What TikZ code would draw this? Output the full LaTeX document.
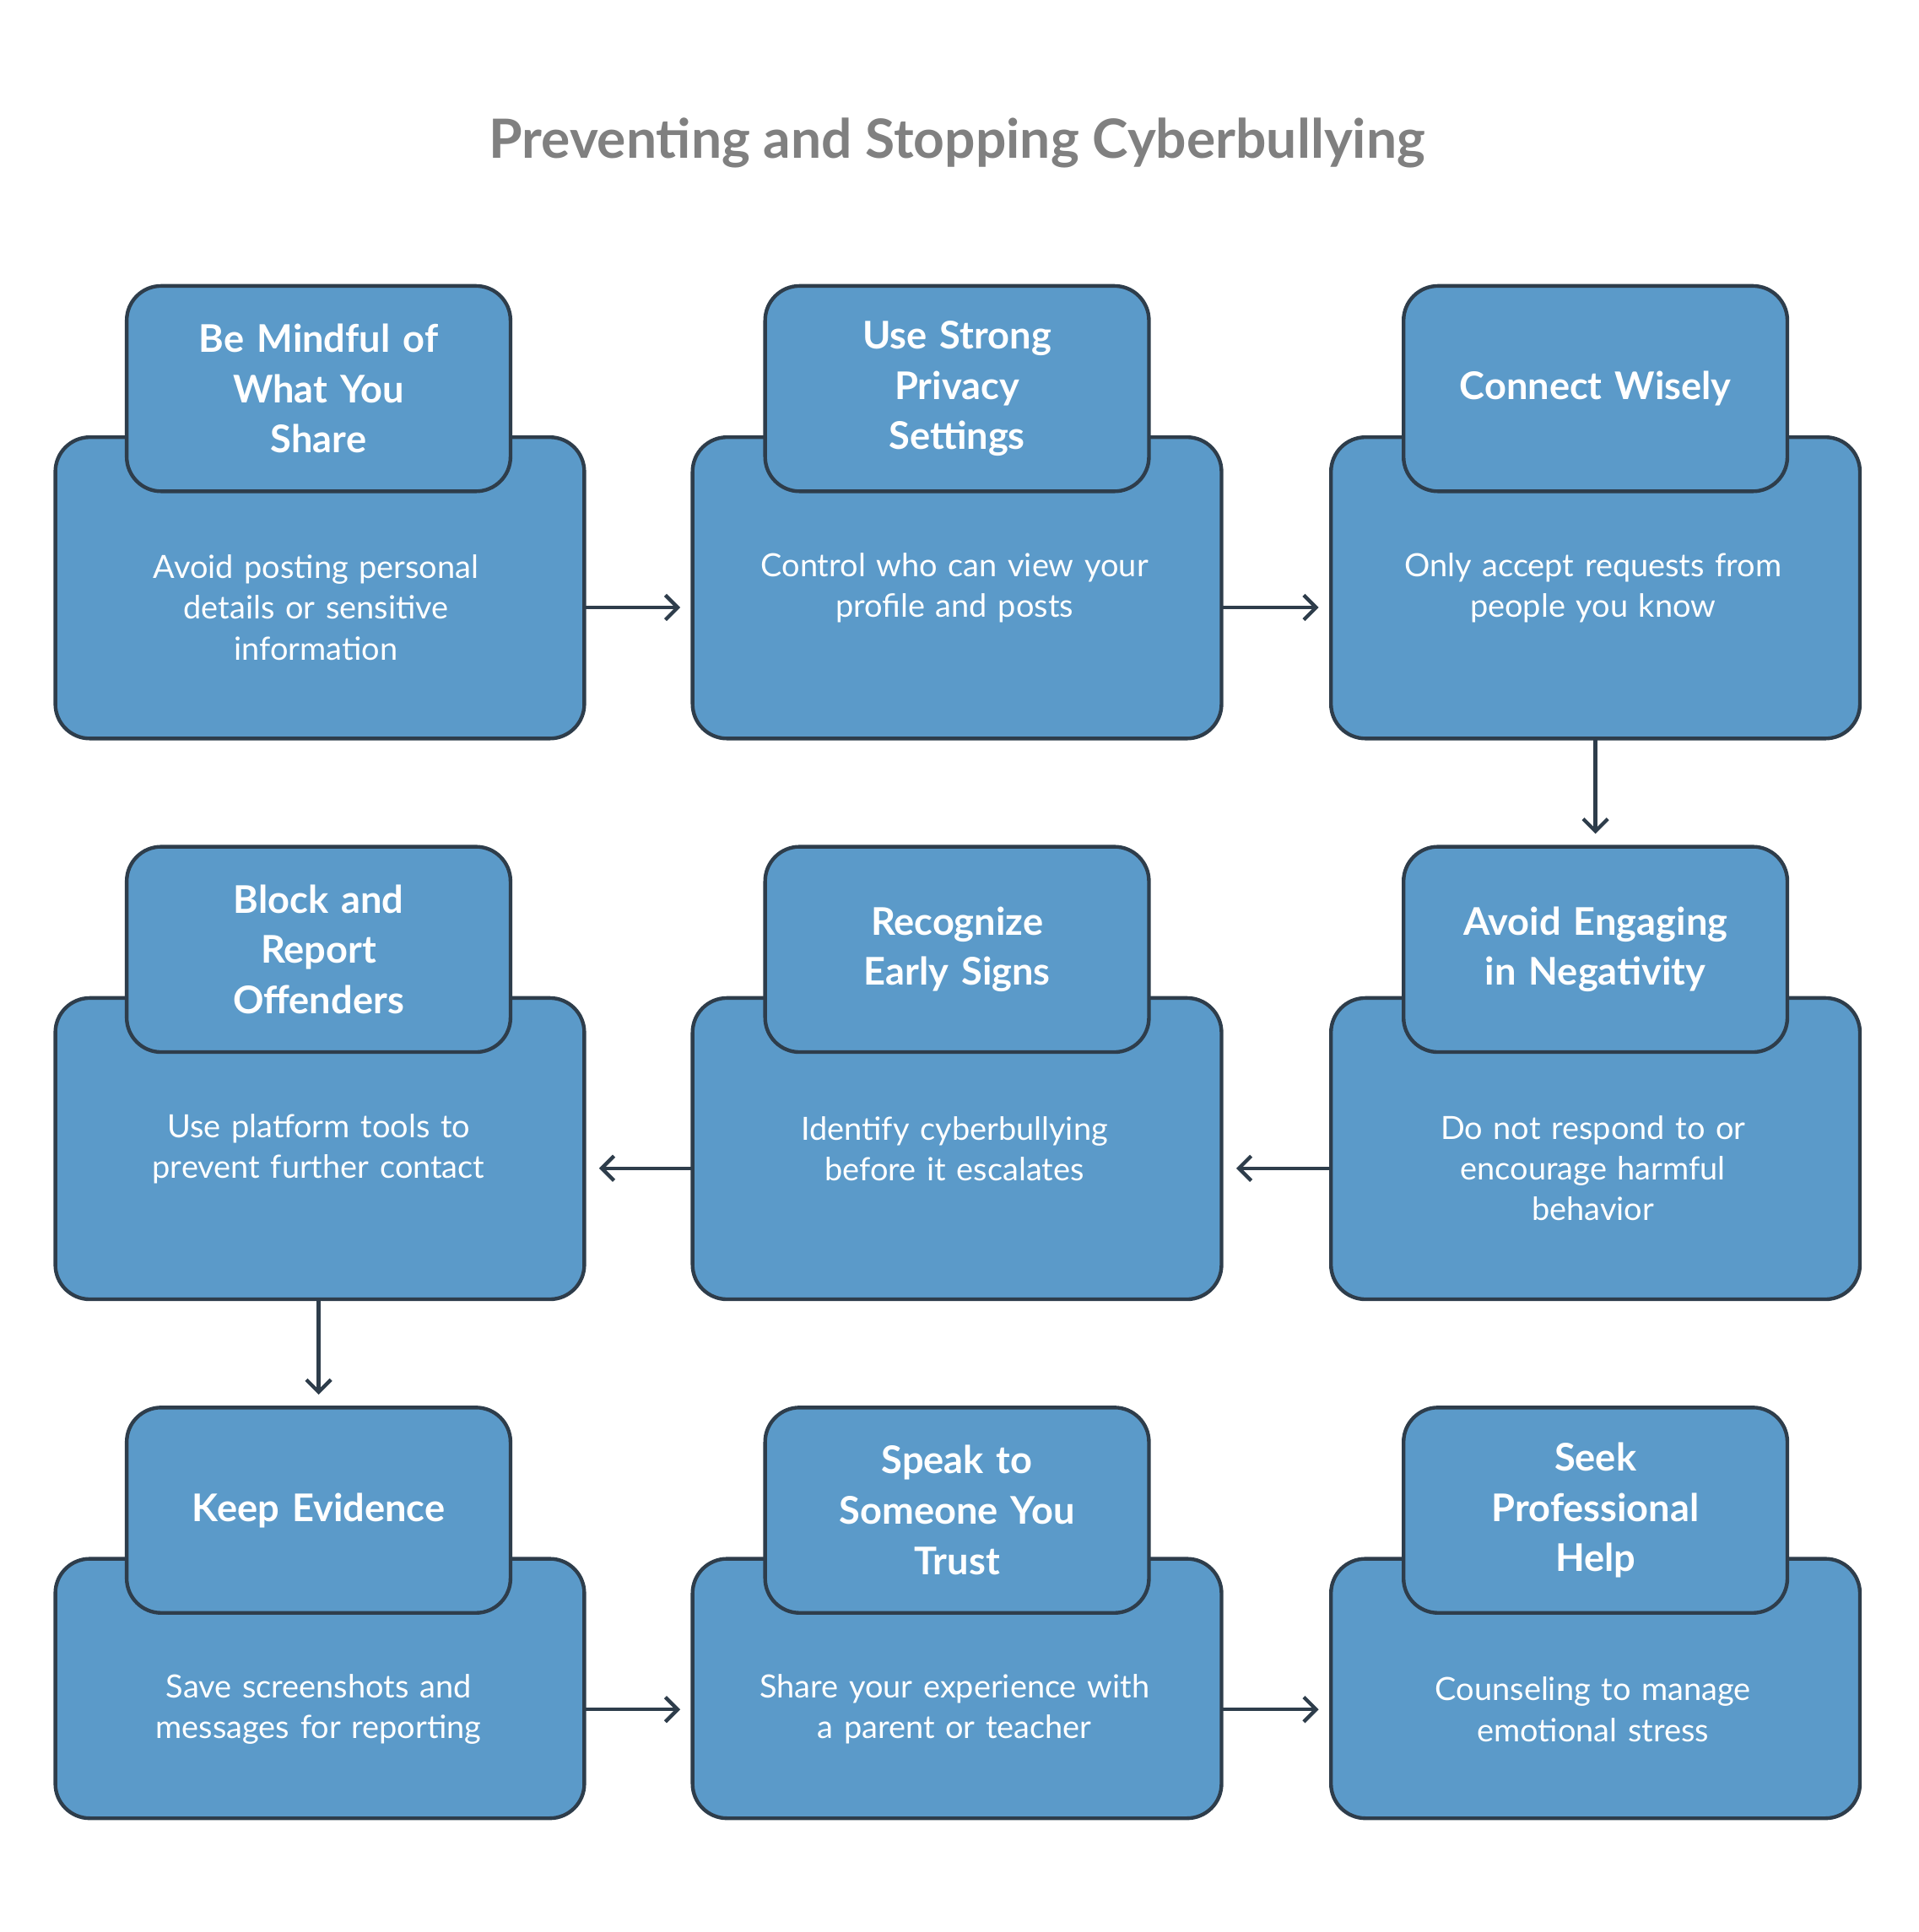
\documentclass[tikz,border=0pt]{standalone}
\usepackage{fontspec}
\setmainfont{Lato}
\usetikzlibrary{arrows.meta}
\definecolor{boxfill}{HTML}{5B9AC9}
\definecolor{boxline}{HTML}{2E3D4B}
\definecolor{titlegray}{HTML}{808080}
\tikzset{
 big/.style={draw=boxline,fill=boxfill,line width=3pt,rounded corners=28pt,minimum width=430pt,minimum height=245pt},
 head/.style={draw=boxline,fill=boxfill,line width=3pt,rounded corners=28pt,minimum width=312pt,minimum height=167pt},
 htext/.style={text=white,align=center,font=\fontsize{31}{41}\selectfont\bfseries,text width=290pt},
 btext/.style={text=white,align=center,font=\fontsize{26}{33}\selectfont,text width=400pt},
 conn/.style={draw=boxline,line width=3pt,-{Straight Barb[length=10pt,width=20pt,line width=3pt]}}
}
\begin{document}
\begin{tikzpicture}[x=1pt,y=-1pt]
\useasboundingbox (0,0) rectangle (1560,1571);
\node[font=\fontsize{44}{50}\selectfont\bfseries,text=titlegray] (title) at (778,116) {Preventing and Stopping Cyberbullying};
% row 1
\node[big] (b1) at (260,478) {}; \node[head] (h1) at (259,316) {};
\node[big] (b2) at (778,478) {}; \node[head] (h2) at (778,316) {};
\node[big] (b3) at (1297,478) {}; \node[head] (h3) at (1297,316) {};
% row 2
\node[big] (b4) at (260,934) {}; \node[head] (h4) at (259,772) {};
\node[big] (b5) at (778,934) {}; \node[head] (h5) at (778,772) {};
\node[big] (b6) at (1297,934) {}; \node[head] (h6) at (1297,772) {};
% row 3
\node[big,minimum height=211pt] (b7) at (260,1373) {}; \node[head] (h7) at (259,1228) {};
\node[big,minimum height=211pt] (b8) at (778,1373) {}; \node[head] (h8) at (778,1228) {};
\node[big,minimum height=211pt] (b9) at (1297,1373) {}; \node[head] (h9) at (1297,1228) {};
% header texts
\node[htext] (t1) at (h1) {Be Mindful of\\What You\\Share};
\node[htext] (t2) at (h2) {Use Strong\\Privacy\\Settings};
\node[htext] (t3) at (h3) {Connect Wisely};
\node[htext] (t4) at (h4) {Block and\\Report\\Offenders};
\node[htext] (t5) at (h5) {Recognize\\Early Signs};
\node[htext] (t6) at (h6) {Avoid Engaging\\in Negativity};
\node[htext] (t7) at (h7) {Keep Evidence};
\node[htext] (t8) at (h8) {Speak to\\Someone You\\Trust};
\node[htext] (t9) at (h9) {Seek\\Professional\\Help};
% body texts
\node[btext] (d1) at (257,494) {Avoid posting personal\\details or sensitive\\information};
\node[btext] (d2) at (776,478) {Control who can view your\\profile and posts};
\node[btext] (d3) at (1295,478) {Only accept requests from\\people you know};
\node[btext] (d4) at (259,934) {Use platform tools to\\prevent further contact};
\node[btext] (d5) at (776,934) {Identify cyberbullying\\before it escalates};
\node[btext] (d6) at (1295,950) {Do not respond to or\\encourage harmful\\behavior};
\node[btext] (d7) at (259,1390) {Save screenshots and\\messages for reporting};
\node[btext] (d8) at (776,1390) {Share your experience with\\a parent or teacher};
\node[btext] (d9) at (1295,1390) {Counseling to manage\\emotional stress};
% connectors
\coordinate (a1) at (475,494); \coordinate (a2) at (553,494);
\coordinate (a3) at (993,494); \coordinate (a4) at (1072,494);
\coordinate (a5) at (1297,600); \coordinate (a6) at (1297,678);
\coordinate (a7) at (1082,950); \coordinate (a8) at (1005,950);
\coordinate (a9) at (563,950); \coordinate (a10) at (487,950);
\coordinate (a11) at (259,1056); \coordinate (a12) at (259,1134);
\coordinate (a13) at (475,1390); \coordinate (a14) at (553,1390);
\coordinate (a15) at (993,1390); \coordinate (a16) at (1072,1390);
\draw[conn] (a1) -- (a2);
\draw[conn] (a3) -- (a4);
\draw[conn] (a5) -- (a6);
\draw[conn] (a7) -- (a8);
\draw[conn] (a9) -- (a10);
\draw[conn] (a11) -- (a12);
\draw[conn] (a13) -- (a14);
\draw[conn] (a15) -- (a16);
\end{tikzpicture}
\end{document}
